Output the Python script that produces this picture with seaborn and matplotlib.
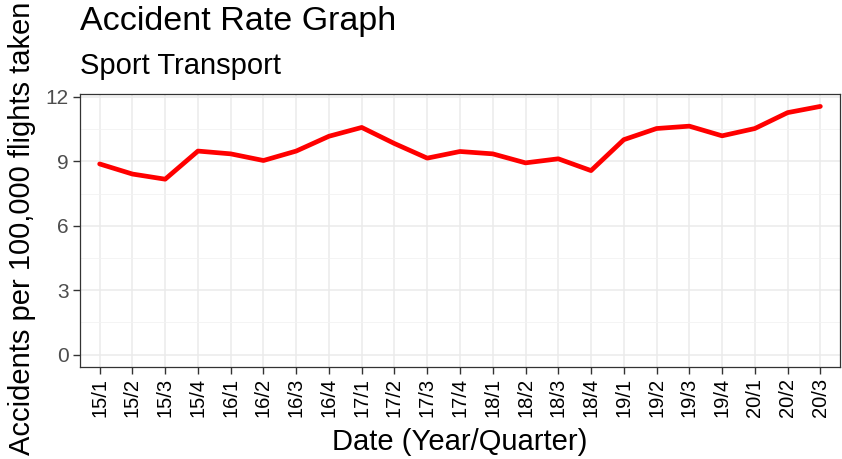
import matplotlib
matplotlib.use("Agg")
import matplotlib.pyplot as plt
import seaborn as sns
import pandas as pd
import numpy as np
from matplotlib.ticker import MultipleLocator

quarters = ["15/1", "15/2", "15/3", "15/4", "16/1", "16/2", "16/3", "16/4",
            "17/1", "17/2", "17/3", "17/4", "18/1", "18/2", "18/3", "18/4",
            "19/1", "19/2", "19/3", "19/4", "20/1", "20/2", "20/3"]
rates = [8.88, 8.41, 8.17, 9.48, 9.35, 9.04, 9.48, 10.17,
         10.58, 9.83, 9.15, 9.46, 9.35, 8.93, 9.12, 8.57,
         10.01, 10.53, 10.64, 10.19, 10.53, 11.27, 11.56]
y_ticks = [0, 3, 6, 9, 12]

df = pd.DataFrame({"quarter": quarters, "rate": rates})
df["pos"] = np.arange(len(quarters))

sns.set_theme(style="white")
plt.rcParams['font.family'] = ['Liberation Sans', 'DejaVu Sans']

W, H = 842, 459
fig = plt.figure(figsize=(W / 100, H / 100), dpi=100)
ax = fig.add_axes([80/W, 1 - 367/H, 760/W, (367 - 94)/H])

sns.lineplot(data=df, x="pos", y="rate", ax=ax, color="#FF0000", linewidth=3.4,
             zorder=5)

n = len(quarters)
ax.set_xlim(-0.6, n - 1 + 0.6)
ax.set_ylim(-0.05 * max(rates), max(rates) * 1.05)
ax.set_xticks(df["pos"])
ax.set_xticklabels(quarters, rotation=90, fontsize=14.5, color="black")
ax.set_yticks(y_ticks)
ax.set_yticklabels([str(t) for t in y_ticks], fontsize=15, color="#4D4D4D")
ax.yaxis.set_minor_locator(MultipleLocator(1.5))

ax.grid(True, which="major", color="#EBEBEB", linewidth=1.1, zorder=0)
ax.grid(True, which="minor", axis="y", color="#F2F2F2", linewidth=0.6, zorder=0)
ax.set_axisbelow(True)
for s in ax.spines.values():
    s.set_color("#333333")
    s.set_linewidth(0.9)
ax.tick_params(axis="both", which="major", direction="out", length=5, width=1,
               color="#333333", pad=3, left=True, bottom=True)
ax.tick_params(axis="y", which="minor", length=0)

ax.set_xlabel("")
ax.set_ylabel("")
fig.text(460/W, 1 - 450/H, "Date (Year/Quarter)", fontsize=21,
         color="black", ha="center", va="baseline")
fig.text(22/W, 1 - 228/H, "Accidents per 100,000 flights taken", fontsize=21,
         color="black", ha="center", va="center", rotation=90)

fig.text(80/W, 1 - 30/H, "Accident Rate Graph", fontsize=24.5,
         color="black", ha="left", va="baseline")
fig.text(80/W, 1 - 74/H, "Sport Transport", fontsize=21,
         color="black", ha="left", va="baseline")

fig.savefig("out.png", dpi=100)
